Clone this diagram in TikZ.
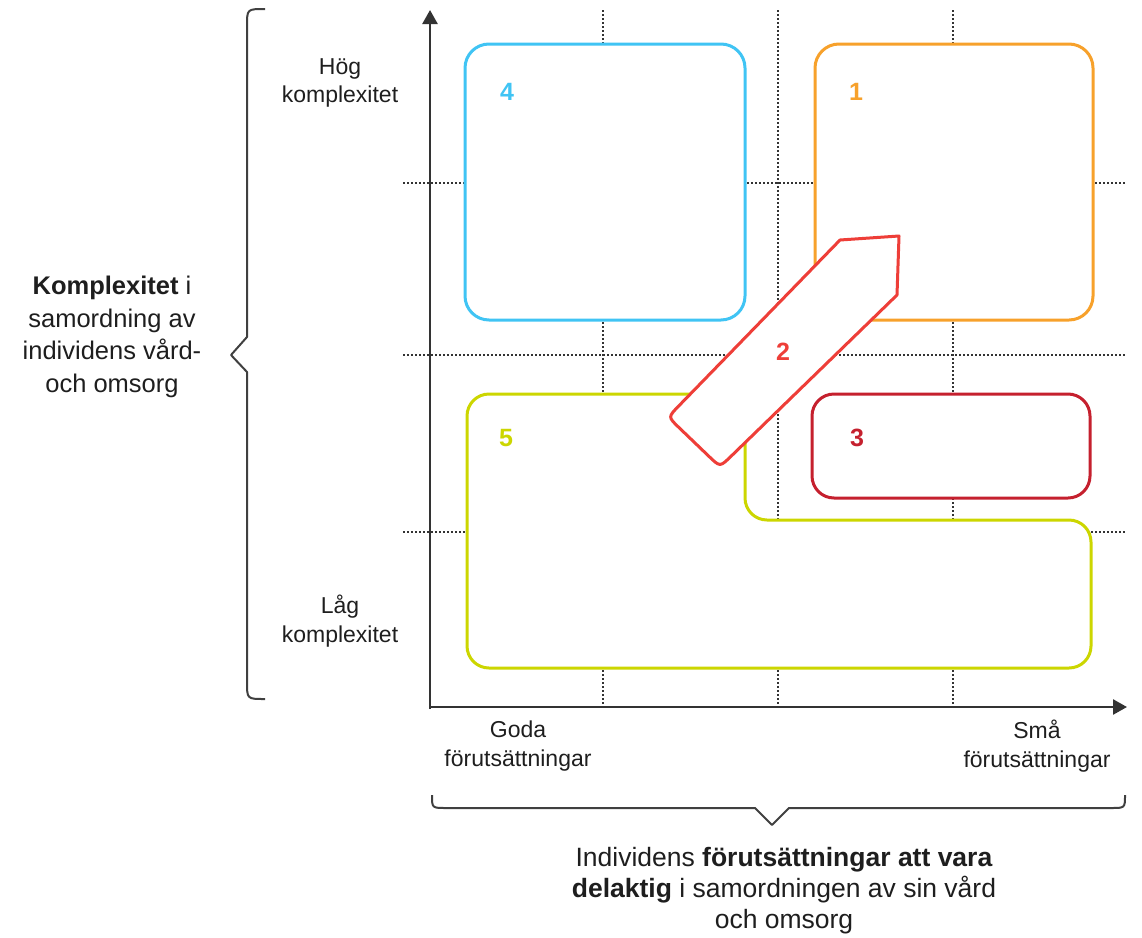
\documentclass[tikz,border=0pt]{standalone}
\usepackage{fontspec}
\setmainfont{Liberation Sans}
\usetikzlibrary{arrows.meta}
\definecolor{cblue}{RGB}{64,196,244}
\definecolor{corange}{RGB}{247,161,43}
\definecolor{cdred}{RGB}{197,32,46}
\definecolor{cred}{RGB}{238,62,56}
\definecolor{cyg}{RGB}{204,214,0}
\definecolor{ctext}{RGB}{30,30,30}
\begin{document}
\begin{tikzpicture}[x=1pt,y=-1pt,
 gridline/.style={draw=black!80, line width=1.3pt, dash pattern=on 2pt off 2pt},
 qbox/.style={draw=#1, line width=3pt, fill=white, rounded corners=24pt, inner sep=0pt, outer sep=0pt},
 num/.style={text=#1, font=\bfseries\fontsize{25}{28}\selectfont, inner sep=0pt},
 axlbl/.style={align=center, text=ctext, font=\fontsize{23}{28.5}\selectfont, inner sep=0pt},
 mainlbl/.style={align=center, text=ctext, font=\fontsize{25.5}{32.5}\selectfont, inner sep=0pt},
 axisline/.style={draw=black!80, line width=2.5pt, -{Triangle[length=14pt,width=15pt]}},
 bracel/.style={draw=black!75, line width=2pt, line join=round},
]
\useasboundingbox (0,0) rectangle (1142,937);

% grid
\foreach \gx in {603,778,953} \draw[gridline] (\gx,10) -- (\gx,707);
\foreach \gy in {183,355,532} \draw[gridline] (403,\gy) -- (1125,\gy);

% axes
\coordinate (O) at (430,707);
\coordinate (ytop) at (430,10);
\coordinate (xend) at (1127,707);
\draw[axisline] (430,709) -- (ytop);
\draw[axisline] (429,707) -- (xend);

% boxes
\node[qbox=cblue, minimum width=280pt, minimum height=276pt] (b4) at (605,182) {};
\node[qbox=corange, minimum width=278pt, minimum height=276pt] (b1) at (954,182) {};
\node[qbox=cdred, minimum width=278pt, minimum height=104pt, rounded corners=22pt] (b3) at (951,446) {};
\draw[draw=cyg, line width=3pt, fill=white, rounded corners=22pt]
  (600,394) -- (745,394) -- (745,520) -- (1091,520) -- (1091,668) -- (467,668) -- (467,394) -- cycle;

% arrow 2
\draw[draw=cred, line width=3pt, fill=white, line join=round]
  (840,240) -- (899,236) -- (897,295) -- (730.8,456.5)
  .. controls (720,467) .. (709.2,456.6) -- (678.8,427.4)
  .. controls (668,417) .. (678.5,406.2) -- cycle;

% numbers
\node[num=cblue] (n4) at (507,92) {4};
\node[num=corange] (n1) at (856,92) {1};
\node[num=cdred] (n3) at (857,438) {3};
\node[num=cyg] (n5) at (506,438) {5};
\node[num=cred] (n2) at (783,352) {2};

% axis labels
\node[axlbl] (hog) at (340,83) {Hög\\komplexitet};
\node[axlbl] (lag) at (340,621) {Låg\\komplexitet};
\node[axlbl] (goda) at (518,746) {Goda\\förutsättningar};
\node[axlbl] (sma) at (1037,746) {Små\\förutsättningar};

% braces
\draw[bracel] (265,9) .. controls (247,9) .. (247,26) -- (247,337) -- (231,355) -- (247,372) -- (247,682) .. controls (247,699) .. (265,699);
\draw[bracel] (432,795) .. controls (432,808) .. (446,808) -- (755,808) -- (772,825) -- (789,808) -- (1111,808) .. controls (1125,808) .. (1125,795);

% main labels
\node[mainlbl] (ylbl) at (112,337) {\textbf{Komplexitet} i\\samordning av\\individens vård-\\och omsorg};
\node[mainlbl, font=\fontsize{26.5}{31}\selectfont] (xlbl) at (784,891) {Individens \textbf{förutsättningar att vara}\\\textbf{delaktig} i samordningen av sin vård\\och omsorg};
\end{tikzpicture}
\end{document}
